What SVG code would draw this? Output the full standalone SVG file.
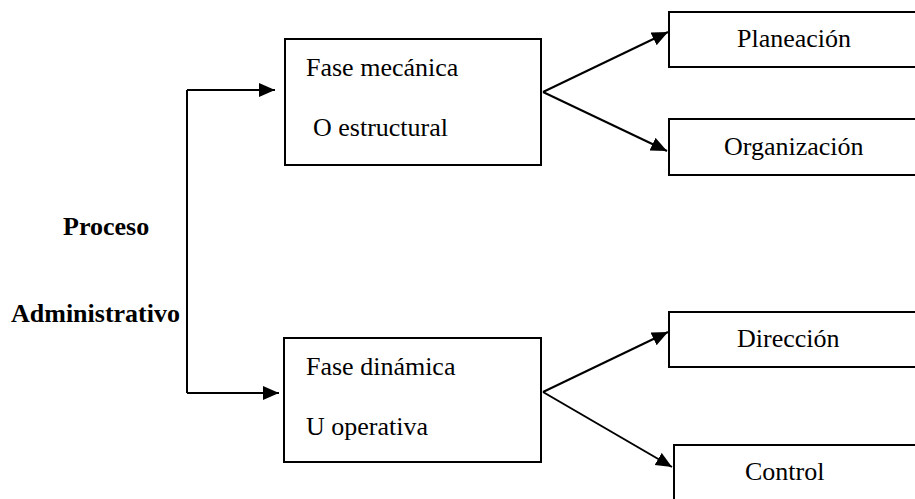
<svg xmlns="http://www.w3.org/2000/svg" width="915" height="499" viewBox="0 0 915 499">
  <style>
    .box { fill: #fff; stroke: #000; stroke-width: 2; }
    .lbl { font-family: 'Liberation Serif', 'Times New Roman', 'DejaVu Serif', serif; font-size: 26px; fill: #000; }
    .bold { font-weight: bold; }
    .conn { fill: none; stroke: #000; stroke-width: 2; }
  </style>
  <defs>
    <marker id="arrow" markerUnits="userSpaceOnUse" markerWidth="17" markerHeight="15" refX="16" refY="7" orient="auto">
      <path d="M0,0 L16,7 L0,14 Z" fill="#000"/>
    </marker>
  </defs>

  <rect width="915" height="499" fill="#fff"/>

  <g id="title" font-family="Liberation Serif, serif">
    <text class="lbl bold" x="63" y="235">Proceso</text>
    <text class="lbl bold" x="11" y="322">Administrativo</text>
  </g>

  <g id="connectors">
    <path class="conn" d="M187,90 L187,393"/>
    <path class="conn" d="M187,90 L275,90" marker-end="url(#arrow)"/>
    <path class="conn" d="M187,393 L279,393" marker-end="url(#arrow)"/>
    <path class="conn" d="M543,92 L668,32" marker-end="url(#arrow)"/>
    <path class="conn" d="M543,92 L667,151" marker-end="url(#arrow)"/>
    <path class="conn" d="M543,392 L668,332" marker-end="url(#arrow)"/>
    <path class="conn" d="M543,392 L672,467" marker-end="url(#arrow)"/>
  </g>

  <g id="fase-mecanica">
    <rect class="box" x="285" y="39" width="256" height="126"/>
    <text class="lbl" x="306" y="76">Fase mecánica</text>
    <text class="lbl" x="313" y="136">O estructural</text>
  </g>

  <g id="fase-dinamica">
    <rect class="box" x="284" y="338" width="257" height="124"/>
    <text class="lbl" x="306" y="375">Fase dinámica</text>
    <text class="lbl" x="306" y="435">U operativa</text>
  </g>

  <g id="planeacion">
    <rect class="box" x="669" y="12" width="260" height="55"/>
    <text class="lbl" x="737" y="47">Planeación</text>
  </g>

  <g id="organizacion">
    <rect class="box" x="669" y="119" width="260" height="56"/>
    <text class="lbl" x="724" y="155">Organización</text>
  </g>

  <g id="direccion">
    <rect class="box" x="669" y="312" width="260" height="55"/>
    <text class="lbl" x="737" y="347">Dirección</text>
  </g>

  <g id="control">
    <rect class="box" x="674" y="445" width="260" height="70"/>
    <text class="lbl" x="745" y="480">Control</text>
  </g>
</svg>
